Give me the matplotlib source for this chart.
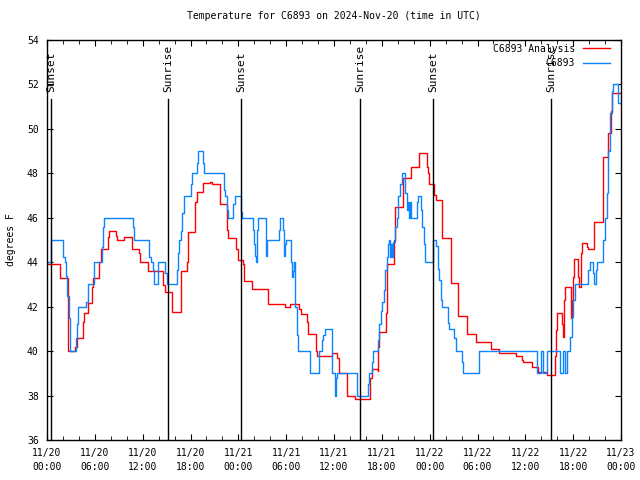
import numpy as np
import pandas as pd
import matplotlib
matplotlib.use("Agg")
import matplotlib.pyplot as plt
import matplotlib.dates as mdates

plt.rcParams['font.family'] = ['DejaVu Sans Mono']
plt.rcParams['font.size'] = 7

start = pd.Timestamp('2024-11-20 00:00')

# observation (hours since start, degF) - step data
obs_h = [0.0, 0.50, 2.05, 2.26, 2.38, 2.55, 2.76, 2.89, 3.6, 3.76, 3.93, 4.93, 5.1, 5.18,
         5.85, 5.94, 6.86, 7.06, 7.19, 10.83, 10.96, 12.84, 13.0, 13.25, 13.42, 13.88, 13.97,
         14.8, 15.0, 16.27, 16.39, 16.6, 16.81, 16.98, 17.19, 18.06, 18.23, 18.86, 18.98,
         19.53, 19.69, 22.2, 22.33, 22.54, 22.74, 23.37, 23.58, 24.33, 24.42, 25.8, 25.97,
         26.09, 26.26, 26.34, 26.51, 27.43, 27.51, 27.64, 29.14, 29.23, 29.64, 29.77, 29.85,
         29.98, 30.6, 30.77, 30.9, 31.02, 31.15, 31.32, 31.52, 32.99, 34.16, 34.53, 34.66,
         34.87, 35.71, 35.79, 36.13, 36.25, 36.42, 38.93, 40.31, 40.43, 40.72, 40.85, 41.48,
         41.69, 41.86, 42.06, 42.27, 42.4, 42.61, 42.82, 42.94, 43.03, 43.15, 43.28, 43.44,
         43.65, 43.87, 44.07, 44.28, 44.49, 44.95, 45.12, 45.24, 45.41, 45.53, 45.66, 46.37,
         46.5, 46.87, 47.08, 47.29, 47.46, 48.46, 48.8, 49.0, 49.21, 49.38, 49.51, 50.34,
         50.47, 51.1, 51.27, 52.1, 52.22, 54.19, 61.43, 61.93, 62.26, 62.68, 64.35, 64.68,
         64.98, 65.27, 65.6, 65.81, 66.02, 66.23, 67.9, 68.11, 68.45, 68.61, 68.82, 69.03,
         69.78, 70.0, 70.2, 70.41, 70.62, 70.83, 71.04, 71.67, 72.0]
obs_t = [44, 45, 44.25, 44, 43.4, 42.5, 41.5, 40, 40.6, 41.2, 42, 42.2, 42.8, 43,
         43.6, 44, 44.7, 45.6, 46, 45.6, 45, 44.25, 44, 43.65, 43, 43.65, 44,
         43.5, 43, 43.65, 44.4, 45, 45.4, 46.2, 47, 47.5, 48, 48.45, 49,
         48.45, 48, 47.25, 47, 46.35, 46, 46.6, 47, 46.27, 46, 45.45, 44.8,
         44.3, 44, 45.45, 46, 45.45, 44.3, 45, 45.45, 46, 45.45, 44.3, 44.8,
         45, 44, 43.35, 43.6, 44, 42, 40.73, 40, 39, 40, 40.5, 40.73,
         41, 40, 39, 38, 38.8, 39, 38, 38.5, 39, 39.5, 40, 40.5,
         41.2, 41.8, 42.2, 42.75, 43.65, 44.25, 44.8, 45, 44.25, 44.8, 44.25, 44.9,
         45.6, 46, 47, 47.5, 48, 47.1, 46.35, 46.7, 46, 46.7, 46, 46.7,
         47, 46.35, 45.6, 44.8, 44, 45, 44.75, 43.7, 43.2, 42.3, 42, 41.25,
         41, 40.6, 40, 39.5, 39, 40, 39, 40, 39, 40, 39, 40,
         39, 40, 40.65, 41.55, 42.3, 43, 43.65, 44, 43.5, 43, 43.65, 44,
         45, 46, 47.1, 49, 50.7, 51.7, 52, 51.15, 51.15]

# analysis
ana_h = [0.0, 1.63, 2.59, 2.68, 3.51, 3.72, 4.56, 4.68, 5.1, 5.6, 5.81, 6.56, 6.77, 7.61,
         7.78, 8.61, 8.74, 9.62, 10.7, 11.54, 11.7, 12.71, 14.59, 14.8, 15.64, 16.77, 17.52,
         17.72, 18.56, 18.77, 19.61, 20.45, 20.66, 21.7, 22.62, 22.74, 23.71, 24.0, 24.62,
         24.75, 25.75, 27.76, 29.85, 30.48, 31.65, 31.86, 32.57, 32.7, 33.7, 33.83, 35.79,
         36.42, 36.67, 37.59, 38.63, 40.52, 40.72, 41.48, 41.56, 41.69, 42.52, 42.69, 43.57,
         43.69, 44.7, 45.62, 46.62, 47.67, 47.75, 47.92, 48.59, 48.76, 49.59, 50.64, 51.6,
         52.65, 53.77, 55.7, 56.7, 58.79, 59.54, 59.67, 60.8, 61.63, 62.76, 63.72, 63.85,
         64.01, 64.56, 64.68, 64.85, 64.98, 65.69, 65.81, 65.94, 66.11, 66.65, 66.78, 66.95,
         67.07, 67.7, 67.9, 68.61, 69.71, 70.41, 70.71, 70.83, 72.0]
ana_t = [43.9, 43.3, 40.8, 40.0, 40.2, 40.6, 41.3, 41.7, 42.15, 42.9, 43.3, 44.0, 44.6, 45.15,
         45.4, 45.2, 45.0, 45.15, 44.6, 44.4, 44.0, 43.6, 42.98, 42.65, 41.77, 43.6, 44.0,
         45.34, 46.7, 47.17, 47.55, 47.6, 47.5, 46.6, 45.45, 45.07, 44.6, 44.1, 43.9,
         43.17, 42.8, 42.12, 42.0, 42.1, 41.9, 41.67, 41.3, 40.77, 40.02, 39.78, 39.9,
         39.7, 39.0, 38.0, 37.83, 38.8, 39.2, 39.1, 40.2, 40.87, 41.7, 43.9, 45.0,
         46.47, 47.78, 48.27, 48.93, 48.3, 48.0, 47.5, 47.03, 46.8, 45.07, 43.05, 41.6,
         40.77, 40.4, 40.08, 39.9, 39.8, 39.6, 39.52, 39.3, 39.07, 38.93, 39.8, 40.95,
         41.7, 41.2, 40.65, 42.3, 42.9, 41.5, 42.3, 43.35, 44.13, 43.35, 42.9, 44.4,
         44.85, 44.7, 44.6, 45.83, 48.75, 49.8, 50.8, 51.63, 51.63]

# sunrise / sunset (hours since start)
sun_h = [0.5, 15.18, 24.34, 39.27, 48.43, 63.2]
sun_lbl = ['Sunset', 'Sunrise', 'Sunset', 'Sunrise', 'Sunset', 'Sunrise']

obs_x = start + pd.to_timedelta(obs_h, unit='h')
ana_x = start + pd.to_timedelta(ana_h, unit='h')
sun_x = start + pd.to_timedelta(sun_h, unit='h')

fig = plt.figure(figsize=(6.4, 4.8), dpi=100)
ax = fig.add_axes([47/640, 40/480, 574/640, 400/480])

ax.step(ana_x, ana_t, where='post', color='#ff0000', lw=1.0, label='C6893 Analysis')
ax.step(obs_x, obs_t, where='post', color='#0a84ff', lw=1.0, label='C6893')

for sx, lbl in zip(sun_x, sun_lbl):
    ax.axvline(sx, ymin=0, ymax=0.853, color='black', lw=1.0)
    ax.text(sx, 0.87, lbl, transform=ax.get_xaxis_transform(), rotation=90,
            ha='center', va='bottom', fontsize=8)

ax.set_xlim(start, start + pd.Timedelta(hours=72))
ax.set_ylim(36, 54)
ax.set_yticks(np.arange(36, 55, 2))
ax.xaxis.set_major_locator(mdates.HourLocator(byhour=[0, 6, 12, 18]))
ax.xaxis.set_minor_locator(mdates.HourLocator(interval=2))
ax.xaxis.set_major_formatter(mdates.DateFormatter('%m/%d\n%H:%M'))
for lab in ax.get_xticklabels():
    lab.set_linespacing(1.5)
ax.tick_params(which='both', direction='in', top=True, right=True, labelsize=7)
ax.tick_params(which='major', length=4, pad=6)
ax.tick_params(which='minor', length=3)
for sp in ax.spines.values():
    sp.set_linewidth(1.0)

ax.set_ylabel('degrees F', fontsize=7, labelpad=8)
ax.set_title('Temperature for C6893 on 2024-Nov-20 (time in UTC)', fontsize=7, pad=15)
ax.legend(loc='upper right', bbox_to_anchor=(0.9965, 1.0125), markerfirst=False,
          frameon=False, handlelength=2.8, fontsize=7, borderaxespad=0.5,
          labelspacing=0.45, handletextpad=0.8)

fig.savefig('out.png', dpi=100)
